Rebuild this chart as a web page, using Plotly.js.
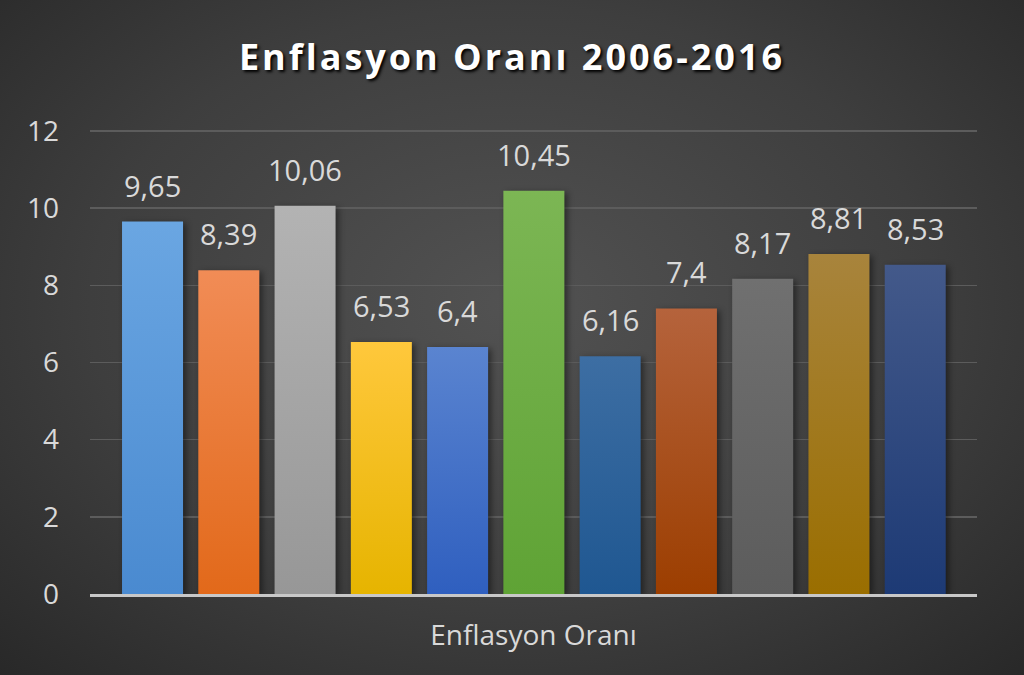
<!DOCTYPE html>
<html>
<head>
<meta charset="utf-8">
<script src="https://cdn.plot.ly/plotly-3.0.1.min.js"></script>
<style>
  html, body { margin: 0; padding: 0; }
  body {
    width: 1024px; height: 675px; overflow: hidden;
    background: radial-gradient(ellipse 75% 80% at 50% 45%, #525252 0%, #3e3e3e 55%, #262626 100%);
  }
  #chart { width: 1024px; height: 675px; }
  .gtitle { letter-spacing: 3px; }
  .bars .point path { filter: drop-shadow(3px 2px 3px rgba(0,0,0,0.45)); }
</style>
</head>
<body>
<div id="chart"></div>
<script>
// yillar ve enflasyon oranlari
var years = ['2006', '2007', '2008', '2009', '2010', '2011', '2012', '2013', '2014', '2015', '2016'];
var rates = [9.65, 8.39, 10.06, 6.53, 6.4, 10.45, 6.16, 7.4, 8.17, 8.81, 8.53];

// renkler: ust (acik) / alt (koyu)
var topColors = ['#6aa6e2', '#f18c56', '#b3b3b3', '#ffc83c', '#5a84d0', '#7cb654', '#3d6ea3', '#b5633c', '#707070', '#a8843c', '#43598a'];
var bottomColors = ['#4a8ad0', '#e2691a', '#979797', '#e6b400', '#2f5fbf', '#5fa335', '#1f5791', '#9c3e00', '#5c5c5c', '#9a6e00', '#1d3a75'];

var labels = rates.map(function(v) { return String(v).replace('.', ','); });

var trace = {
    x: years,
    y: rates,
    type: 'bar',
    marker: { color: bottomColors },
    hoverinfo: 'x+y'
};

// etiketler: kategori eksende indeks ile konumla
var annotations = [];
for (let i = 0; i < years.length; i++) {
    annotations.push({
        x: i, y: rates[i],
        xref: 'x', yref: 'y',
        text: labels[i],
        showarrow: false,
        yanchor: 'bottom',
        yshift: 15,
        font: { family: 'Open Sans, sans-serif', size: 29, color: '#d9d9d9' }
    });
}

var layout = {
    width: 1024,
    height: 675,
    paper_bgcolor: 'rgba(0,0,0,0)',
    plot_bgcolor: 'rgba(0,0,0,0)',
    margin: { l: 90, r: 47, t: 129, b: 81 },
    showlegend: false,
    bargap: 0.2,
    title: {
        text: '<b>Enflasyon Oranı 2006-2016</b>',
        x: 0.5, xanchor: 'center',
        y: 0.915, yanchor: 'middle',
        font: { family: 'Open Sans, sans-serif', size: 36, color: '#ffffff', shadow: '2px 2px 3px #000000' }
    },
    xaxis: {
        type: 'category',
        range: [-0.82, 10.81],
        showticklabels: false,
        showgrid: false,
        zeroline: false,
        showline: true,
        linecolor: '#c8c8c8',
        linewidth: 2.5,
        fixedrange: true,
        title: {
            text: 'Enflasyon Oranı',
            standoff: 30,
            font: { family: 'Open Sans, sans-serif', size: 28, color: '#d9d9d9' }
        }
    },
    yaxis: {
        range: [0, 12.05],
        dtick: 2,
        showgrid: true,
        gridcolor: '#5c5c5c',
        gridwidth: 1.5,
        zeroline: false,
        showline: false,
        ticklabelstandoff: 30,
        fixedrange: true,
        tickfont: { family: 'Open Sans, sans-serif', size: 28, color: '#d9d9d9' }
    },
    annotations: annotations
};

Plotly.newPlot('chart', [trace], layout, { displayModeBar: false, staticPlot: true }).then(function(gd) {
    // cubuklara dikey renk gecisi
    var svg = gd.querySelector('.main-svg');
    var ns = 'http://www.w3.org/2000/svg';
    var defs = svg.querySelector('defs') || svg.insertBefore(document.createElementNS(ns, 'defs'), svg.firstChild);
    for (let i = 0; i < years.length; i++) {
        var g = document.createElementNS(ns, 'linearGradient');
        g.setAttribute('id', 'bar_grad_' + i);
        g.setAttribute('x1', '0'); g.setAttribute('y1', '0');
        g.setAttribute('x2', '0'); g.setAttribute('y2', '1');
        var s1 = document.createElementNS(ns, 'stop');
        s1.setAttribute('offset', '0');
        s1.setAttribute('stop-color', topColors[i]);
        var s2 = document.createElementNS(ns, 'stop');
        s2.setAttribute('offset', '1');
        s2.setAttribute('stop-color', bottomColors[i]);
        g.appendChild(s1); g.appendChild(s2);
        defs.appendChild(g);
    }
    var paths = gd.querySelectorAll('.bars .point path');
    paths.forEach(function(p, i) {
        p.style.fill = 'url(#bar_grad_' + i + ')';
    });
});
</script>
</body>
</html>
